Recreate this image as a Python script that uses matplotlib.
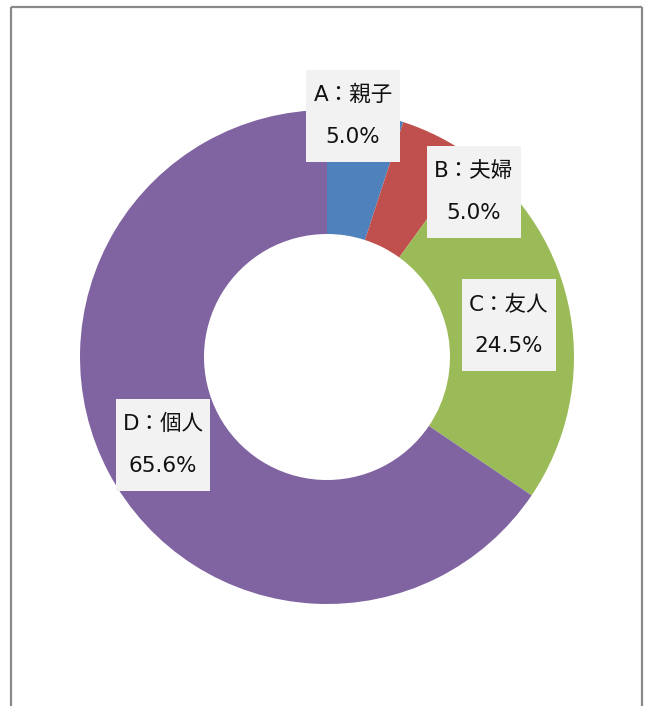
import matplotlib.pyplot as plt
import matplotlib.patches as mpatches

plt.rcParams['font.family'] = ['DejaVu Sans', 'Noto Sans CJK JP']

# data
names = ["A：親子", "B：夫婦", "C：友人", "D：個人"]
shares = [5.0, 5.0, 24.5, 65.6]
colors = ["#4F81BD", "#C0504D", "#9BBB59", "#8064A2"]

# label box centres (pixels from top-left), placed like the original
label_pos = [(353, 116), (474, 192), (509, 325), (163, 445)]
box_w, box_h = 94, 92

W, H = 646, 706
fig = plt.figure(figsize=(W / 100, H / 100), dpi=100)
ax = fig.add_axes([0, 0, 1, 1])

cx, cy = 327, H - 357
ax.pie(shares, colors=colors, startangle=90, counterclock=False,
       center=(cx, cy), radius=247,
       wedgeprops=dict(width=124, edgecolor='none'))

for name, val, (lx, ly) in zip(names, shares, label_pos):
    ax.add_patch(mpatches.Rectangle((lx - box_w / 2, H - ly - box_h / 2),
                                    box_w, box_h, fc='#F2F2F2', ec='none',
                                    zorder=3))
    ax.text(lx, H - ly, f"{name}\n{val:.1f}%", ha='center', va='center',
            fontsize=15.5, linespacing=2.35, color='#111111', zorder=4)

# outer frame (open at the bottom)
frame = dict(color='#898989', lw=1.6, solid_capstyle='butt')
ax.plot([10.5, 10.5], [-5, H - 7], **frame)
ax.plot([642, 642], [-5, H - 7], **frame)
ax.plot([10.5, 642], [H - 7, H - 7], **frame)

ax.set_xlim(0, W)
ax.set_ylim(0, H)
ax.set_aspect('equal')
ax.axis('off')

fig.savefig("out.png", dpi=100)
